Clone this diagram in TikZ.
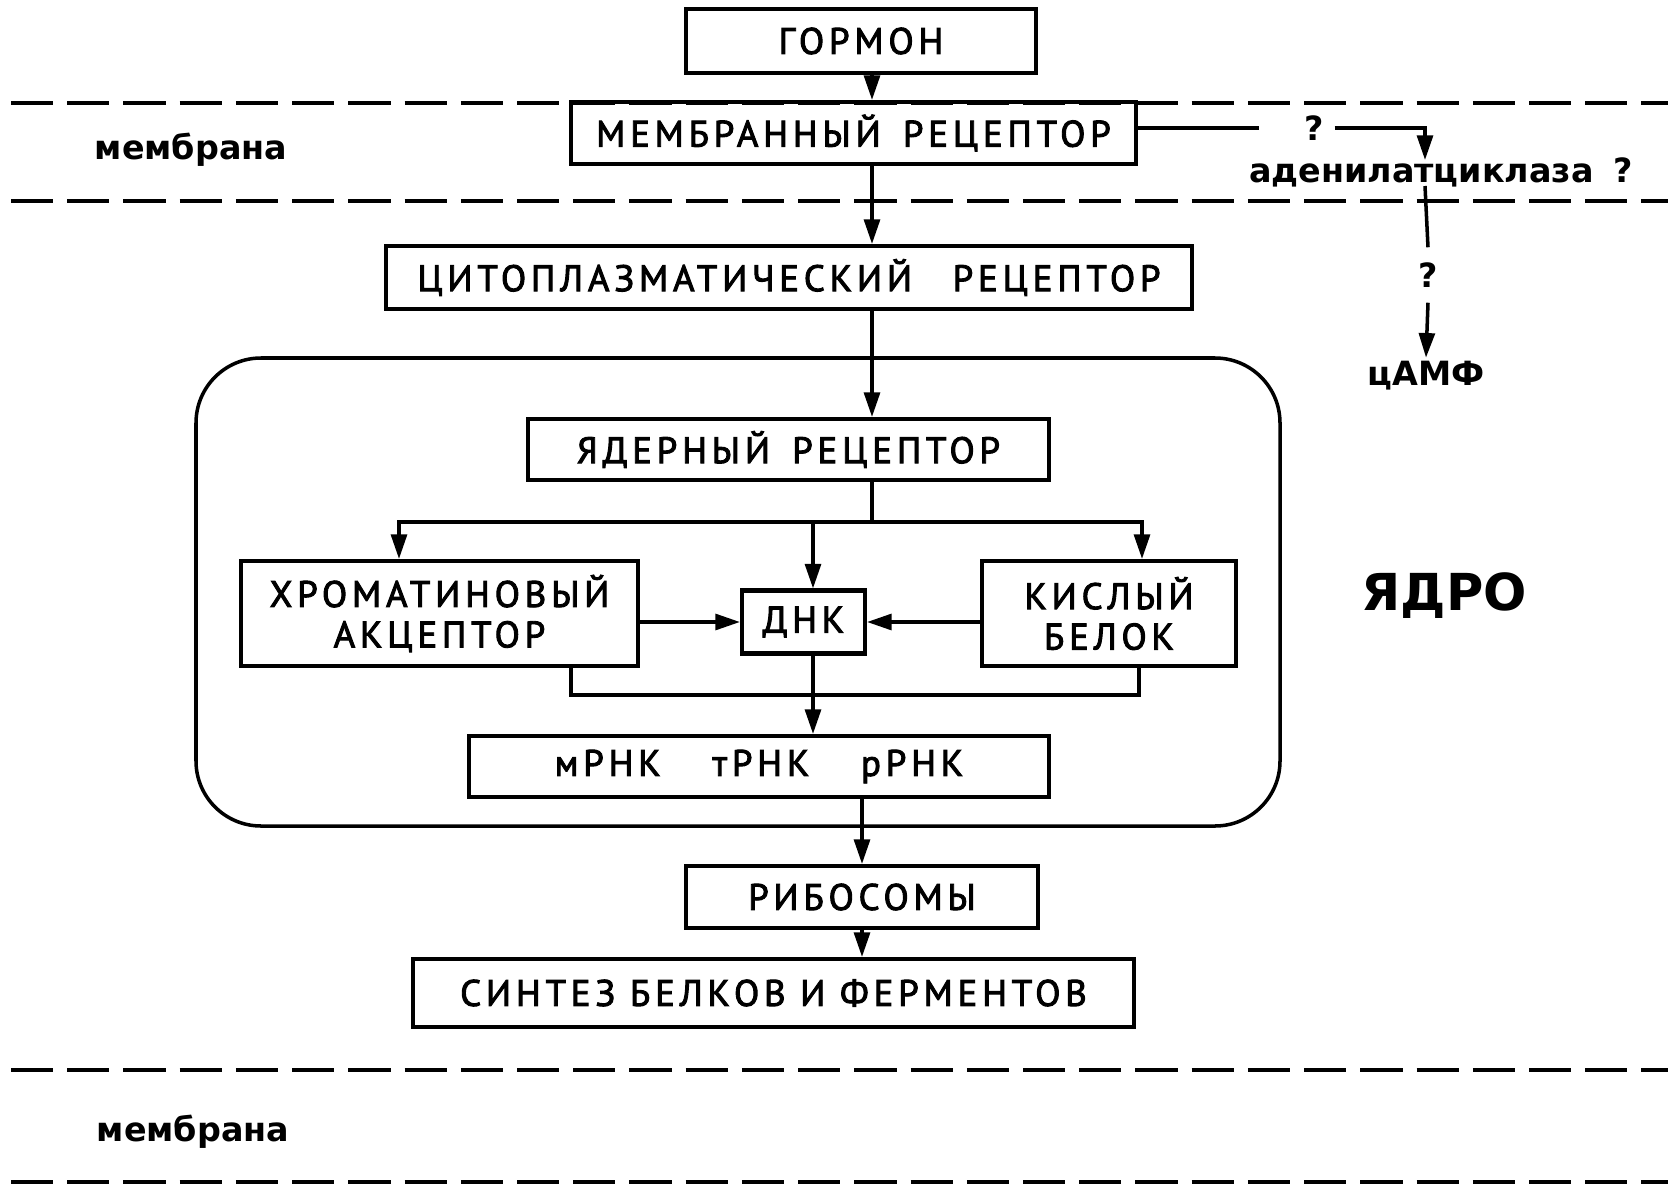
\documentclass[tikz,border=0pt]{standalone}
\usepackage{fontspec}
\usepackage{tikz}
\usetikzlibrary{arrows.meta}
\setmainfont{DejaVu Sans}
\newfontfamily\boxfont[LetterSpace=13,FakeBold=2.5]{PT Sans}
\newfontfamily\labelfont{DejaVu Sans}

\tikzset{
  block/.style={draw, line width=2.3pt, inner sep=0pt, align=center,
    font=\boxfont\fontsize{21}{23}\selectfont},
  arr/.style={line width=2pt, -{Triangle[length=14pt,width=9pt]}},
  link/.style={line width=2pt},
  membrane/.style={line width=2.2pt, dash pattern=on 24pt off 8pt},
  lbl/.style={font=\labelfont\bfseries\fontsize{19}{22}\selectfont, inner sep=0pt},
  qmark/.style={lbl, inner xsep=0.2cm, inner ysep=0.3cm},
}

\begin{document}
\begin{tikzpicture}[x=0.02cm, y=-0.02cm]
  \useasboundingbox (0,0) rectangle (1677,1186);
  % Membrane lines
  \draw[membrane] (11,103) -- (1668,103);
  \draw[membrane] (11,201) -- (1668,201);
  \draw[membrane] (11,1070) -- (1668,1070);
  \draw[membrane] (11,1182) -- (1668,1182);
  \node[lbl] (membtop) at (191,150) {мембрана};
  \node[lbl] (membbot) at (193,1132) {мембрана};
  % Main axis
  \coordinate (axis) at (872,0);
  \coordinate (dnkaxis) at (813,0);
  % Boxes
  \node[block, minimum width=7.00cm, minimum height=1.28cm] (gormon) at (861,41) {ГОРМОН};
  \node[block, minimum width=11.30cm, minimum height=1.24cm] (memb) at (853.5,133) {МЕМБРАННЫЙ\hspace{0.6em}РЕЦЕПТОР};
  \node[block, minimum width=16.12cm, minimum height=1.26cm] (cyto) at (789,277.5) {ЦИТОПЛАЗМАТИЧЕСКИЙ\hspace{1.1em}РЕЦЕПТОР};
  % Nucleus
  \draw[link, rounded corners=1.3cm] (196,358) rectangle (1280,826);
  \node[font=\labelfont\bfseries\fontsize{29}{34}\selectfont] (yadro) at (1444,596) {ЯДРО};
  \node[block, minimum width=10.42cm, minimum height=1.22cm] (yadr) at (788.5,449.5) {ЯДЕРНЫЙ\hspace{0.6em}РЕЦЕПТОР};
  \node[block, minimum width=7.94cm, minimum height=2.10cm] (hrom) at (439.5,613.5) {ХРОМАТИНОВЫЙ\\АКЦЕПТОР};
  \node[block, minimum width=2.46cm, minimum height=1.26cm] (dnk) at (803.5,622) {ДНК};
  \node[block, minimum width=5.08cm, minimum height=2.10cm] (kisl) at (1109,613.5) {КИСЛЫЙ\\БЕЛОК};
  \node[block, minimum width=11.60cm, minimum height=1.22cm] (rnk) at (759,766.5) {мРНК\hspace{1.4em}тРНК\hspace{1.4em}рРНК};
  \node[block, minimum width=7.06cm, minimum height=1.24cm] (ribo) at (862,897) {РИБОСОМЫ};
  \node[block, minimum width=14.42cm, minimum height=1.36cm] (sint) at (773.5,993) {СИНТЕЗ БЕЛКОВ И ФЕРМЕНТОВ};
  % Main chain
  \draw[arr] (gormon.south -| axis) -- (memb.north -| axis);
  \draw[arr] (memb.south -| axis) -- (cyto.north -| axis);
  \draw[arr] (cyto.south -| axis) -- (yadr.north -| axis);
  % Branching inside nucleus
  \coordinate (split) at (872,522);
  \coordinate (hin) at (399,0);
  \coordinate (kin) at (1142,0);
  \draw[link] (yadr.south -| axis) -- (split);
  \draw[arr] (split) -| (hrom.north -| hin);
  \draw[arr] (split) -| (kisl.north -| kin);
  \draw[arr] (split -| dnkaxis) -- (dnk.north -| dnkaxis);
  \draw[arr] (hrom.east |- dnk) -- (dnk.west);
  \draw[arr] (kisl.west |- dnk) -- (dnk.east);
  % Merge below
  \coordinate (hout) at (571,0);
  \coordinate (kout) at (1139,0);
  \coordinate (merge) at (813,695);
  \draw[link] (hrom.south -| hout) |- (merge) -| (kisl.south -| kout);
  \draw[arr] (dnk.south -| dnkaxis) -- (rnk.north -| dnkaxis);
  % Output
  \draw[arr] (rnk.south -| ribo) -- (ribo.north);
  \draw[arr] (ribo.south) -- (sint.north -| ribo);
  % Adenylate cyclase side branch
  \node[qmark] (q1) at (1297,128) {\hspace*{0.7cm}?};
  \coordinate (acin) at (1425,160);
  \draw[link] (memb.east |- q1) -- (q1.west);
  \draw[arr] (q1.east) -| (acin);
  \node[lbl] (adcl) at (1441,172) {аденилатциклаза\hspace{0.6em}?};
  \coordinate (acout) at (1425,186);
  \node[qmark] (q2) at (1428,275) {?};
  \draw[link] (acout) -- (q2.north);
  \node[lbl, inner sep=2pt] (camp) at (1426,376) {цАМФ};
  \draw[arr] (q2.south) -- (camp.north);
\end{tikzpicture}
\end{document}
